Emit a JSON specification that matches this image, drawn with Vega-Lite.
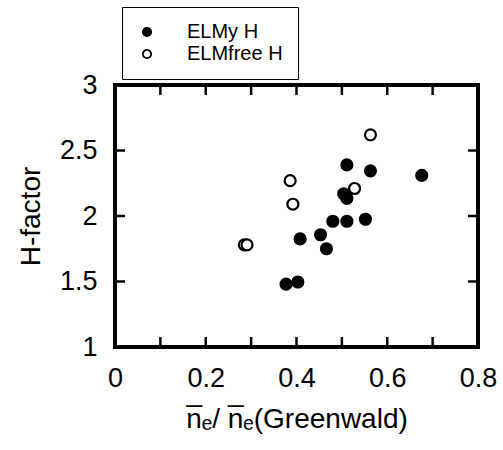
{
  "$schema": "https://vega.github.io/schema/vega-lite/v6.json",
  "width": 363,
  "height": 262,
  "autosize": "none",
  "padding": {"left": 115, "top": 85, "right": 25, "bottom": 103},
  "background": "white",
  "config": {
    "font": "Liberation Sans",
    "view": {"stroke": "black", "strokeWidth": 4},
    "axis": {"grid": false, "domain": false, "ticks": false, "labelColor": "black", "titleColor": "black", "labelFont": "Liberation Sans", "titleFont": "Liberation Sans", "titleFontWeight": "normal"}
  },
  "datasets": {
    "points": [
      {"x": 0.511, "h": 2.39, "series": "ELMy H"},
      {"x": 0.563, "h": 2.345, "series": "ELMy H"},
      {"x": 0.676, "h": 2.31, "series": "ELMy H"},
      {"x": 0.504, "h": 2.17, "series": "ELMy H"},
      {"x": 0.511, "h": 2.135, "series": "ELMy H"},
      {"x": 0.48, "h": 1.96, "series": "ELMy H"},
      {"x": 0.511, "h": 1.96, "series": "ELMy H"},
      {"x": 0.552, "h": 1.975, "series": "ELMy H"},
      {"x": 0.453, "h": 1.857, "series": "ELMy H"},
      {"x": 0.408, "h": 1.825, "series": "ELMy H"},
      {"x": 0.466, "h": 1.75, "series": "ELMy H"},
      {"x": 0.377, "h": 1.48, "series": "ELMy H"},
      {"x": 0.403, "h": 1.496, "series": "ELMy H"},
      {"x": 0.563, "h": 2.62, "series": "ELMfree H"},
      {"x": 0.386, "h": 2.27, "series": "ELMfree H"},
      {"x": 0.392, "h": 2.09, "series": "ELMfree H"},
      {"x": 0.528, "h": 2.21, "series": "ELMfree H"},
      {"x": 0.285, "h": 1.78, "series": "ELMfree H"},
      {"x": 0.291, "h": 1.78, "series": "ELMfree H"}
    ],
    "xticks": [{"v": 0.1}, {"v": 0.2}, {"v": 0.3}, {"v": 0.4}, {"v": 0.5}, {"v": 0.6}, {"v": 0.7}],
    "yticks": [{"v": 1.5}, {"v": 2}, {"v": 2.5}]
  },
  "layer": [
    {
      "data": {"name": "xticks"},
      "mark": {"type": "rule", "color": "black", "strokeWidth": 2.5},
      "encoding": {
        "x": {"field": "v", "type": "quantitative", "scale": {"domain": [0, 0.8], "nice": false}},
        "y": {"datum": 1, "type": "quantitative", "scale": {"domain": [1, 3], "nice": false, "zero": false}},
        "y2": {"datum": 1.076}
      }
    },
    {
      "data": {"name": "xticks"},
      "mark": {"type": "rule", "color": "black", "strokeWidth": 2.5},
      "encoding": {
        "x": {"field": "v", "type": "quantitative"},
        "y": {"datum": 3, "type": "quantitative"},
        "y2": {"datum": 2.924}
      }
    },
    {
      "data": {"name": "yticks"},
      "mark": {"type": "rule", "color": "black", "strokeWidth": 2.5},
      "encoding": {
        "y": {"field": "v", "type": "quantitative"},
        "x": {"datum": 0, "type": "quantitative"},
        "x2": {"datum": 0.022}
      }
    },
    {
      "data": {"name": "yticks"},
      "mark": {"type": "rule", "color": "black", "strokeWidth": 2.5},
      "encoding": {
        "y": {"field": "v", "type": "quantitative"},
        "x": {"datum": 0.8, "type": "quantitative"},
        "x2": {"datum": 0.778}
      }
    },
    {
      "data": {"name": "points"},
      "mark": {"type": "circle", "size": 120, "stroke": "black", "strokeWidth": 2.2, "opacity": 1},
      "encoding": {
        "x": {"field": "x", "type": "quantitative", "scale": {"domain": [0, 0.8], "nice": false},
          "axis": {"orient": "bottom", "values": [0, 0.2, 0.4, 0.6, 0.8], "format": ".1~f", "labelFontSize": 27, "labelPadding": 18, "labelFlush": false, "title": "n̅ₑ/ n̅ₑ(Greenwald)", "titleFontSize": 28, "titlePadding": 14}},
        "y": {"field": "h", "type": "quantitative", "scale": {"domain": [1, 3], "nice": false, "zero": false},
          "axis": {"orient": "left", "values": [1, 1.5, 2, 2.5, 3], "format": ".1~f", "labelFontSize": 27, "labelPadding": 18, "labelFlush": false, "title": "H-factor", "titleFontSize": 28, "titlePadding": 14}},
        "fill": {"field": "series", "type": "nominal", "scale": {"domain": ["ELMy H", "ELMfree H"], "range": ["black", "white"]},
          "legend": {"orient": "none", "legendX": 7, "legendY": -78, "title": null, "strokeColor": "black", "padding": 15, "labelFontSize": 20, "labelOffset": 30, "symbolSize": 70, "symbolType": "circle", "symbolStrokeColor": "black", "symbolStrokeWidth": 1.8, "rowPadding": 2, "labelColor": "black", "fillColor": "white"}}
      }
    }
  ]
}
